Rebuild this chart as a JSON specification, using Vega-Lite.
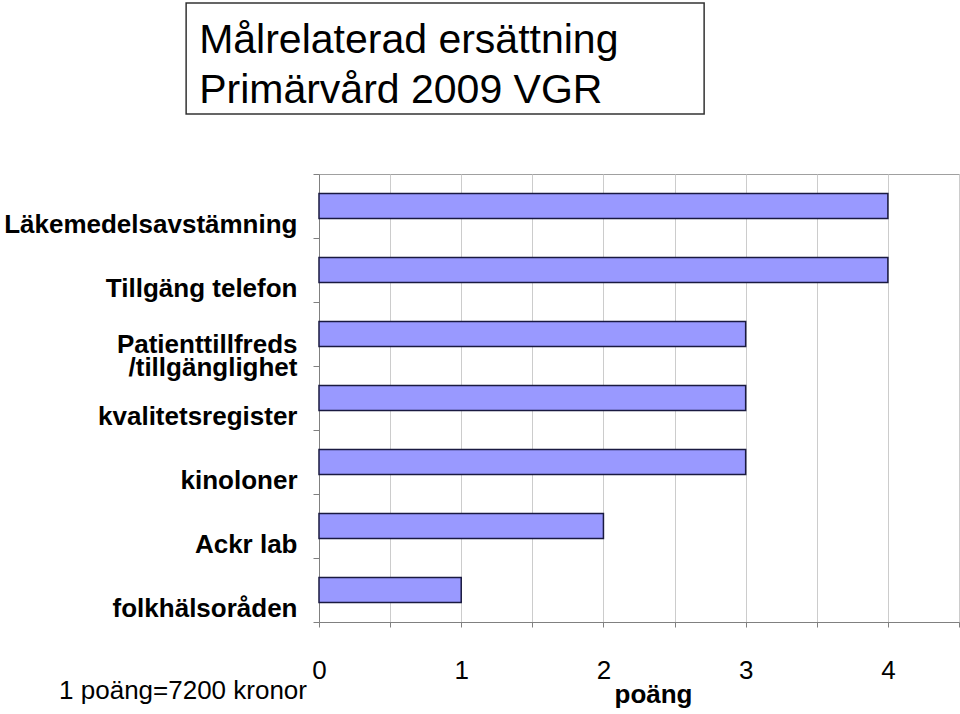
{
  "$schema": "https://vega.github.io/schema/vega-lite/v6.json",
  "padding": {"left": 3, "top": 2, "right": 0, "bottom": 0},
  "background": "white",
  "config": {"font": "Liberation Sans", "view": {"stroke": null}},
  "center": true,
  "spacing": 45,
  "vconcat": [
    {
      "width": 518,
      "height": 111,
      "view": {"stroke": "#333333", "strokeWidth": 1.5},
      "title": {"text": " ", "orient": "right", "offset": 378, "fontSize": 10},
      "data": {"values": [{"t": "Målrelaterad ersättning\nPrimärvård 2009 VGR"}]},
      "mark": {"type": "text", "lineBreak": "\n", "align": "left", "baseline": "alphabetic", "fontSize": 41, "lineHeight": 50, "color": "black", "font": "Liberation Sans"},
      "encoding": {"text": {"field": "t"}, "x": {"value": 13}, "y": {"value": 50}}
    },
    {
      "width": 640,
      "height": 448,
      "view": {"stroke": "#a0a0a0"},
      "title": {"text": "1 poäng=7200 kronor", "orient": "bottom", "anchor": "start", "frame": "group", "align": "right", "dx": -12, "offset": -8, "baseline": "alphabetic", "fontSize": 26, "fontWeight": "normal", "color": "black", "font": "Liberation Sans"},
      "data": {"values": [
        {"kategori": "Läkemedelsavstämning", "poang": 4},
        {"kategori": "Tillgäng telefon", "poang": 4},
        {"kategori": "Patienttillfreds /tillgänglighet", "poang": 3},
        {"kategori": "kvalitetsregister", "poang": 3},
        {"kategori": "kinoloner", "poang": 3},
        {"kategori": "Ackr lab", "poang": 2},
        {"kategori": "folkhälsoråden", "poang": 1}
      ]},
      "mark": {"type": "bar", "size": 25, "color": "#9999ff", "stroke": "#1a1a40", "strokeWidth": 1.5},
      "encoding": {
        "x": {
          "field": "poang", "type": "quantitative",
          "scale": {"domain": [0, 4.5], "nice": false},
          "axis": {
            "values": [0, 0.5, 1, 1.5, 2, 2.5, 3, 3.5, 4, 4.5],
            "labelExpr": "datum.value % 1 === 0 && datum.value < 4.5 ? format(datum.value, 'd') : ''",
            "grid": true, "gridColor": "#cccccc", "gridWidth": 1,
            "domainColor": "#808080", "tickColor": "#808080", "tickSize": 5,
            "labelFontSize": 26, "labelColor": "black", "labelPadding": 30, "labelFlush": false, "labelOverlap": false,
            "title": "poäng", "titleFontSize": 26, "titleFontWeight": "bold", "titleColor": "black",
            "titleX": 334, "titleY": 80, "titleBaseline": "alphabetic"
          }
        },
        "y": {
          "field": "kategori", "type": "nominal", "sort": null,
          "scale": {"paddingInner": 0, "paddingOuter": 0},
          "axis": {
            "title": null,
            "labelExpr": "datum.label == 'Patienttillfreds /tillgänglighet' ? ['Patienttillfreds', '/tillgänglighet'] : datum.label",
            "labelFontSize": 26, "labelFontWeight": "bold", "labelColor": "black",
            "labelPadding": 16,
            "labelOffset": {"condition": {"test": "datum.value == 'Patienttillfreds /tillgänglighet'", "value": 10}, "value": 18},
            "labelLimit": 0, "labelLineHeight": 23,
            "tickSize": 6, "tickColor": "#808080", "tickBand": "extent",
            "domainColor": "#808080", "grid": false
          }
        }
      }
    }
  ]
}
